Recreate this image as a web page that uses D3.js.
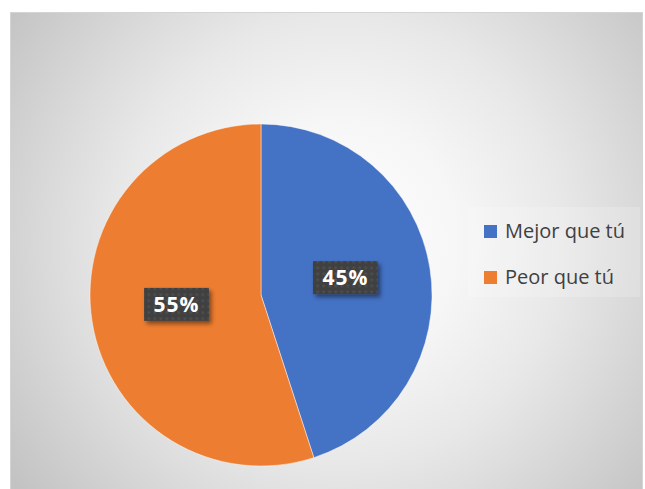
<!DOCTYPE html>
<html>
<head>
<meta charset="utf-8">
<script src="https://cdn.jsdelivr.net/npm/d3@7"></script>
<style>
  html, body { margin: 0; padding: 0; background: #ffffff; }
  svg { display: block; }
</style>
</head>
<body>
<svg id="chart" width="645" height="489"></svg>
<script>
// Share of answers
const categories = ["Mejor que tú", "Peor que tú"];
const values = [45, 55];
const labels = ["45%", "55%"];
const colors = ["#4472C4", "#ED7D31"];

const W = 645, H = 489;
const svg = d3.select("#chart");
const defs = svg.append("defs");

// soft radial background of the chart area
const bg = defs.append("radialGradient")
  .attr("id", "bgGrad")
  .attr("gradientUnits", "userSpaceOnUse")
  .attr("cx", 340).attr("cy", 240).attr("r", 405);
[[0, "#ffffff"], [0.3, "#f6f6f6"], [0.55, "#e8e8e8"], [0.7, "#dcdcdc"], [1, "#c3c3c3"]]
  .forEach(([o, c]) => bg.append("stop").attr("offset", o).attr("stop-color", c));

// dotted fill for the value labels
const pat = defs.append("pattern")
  .attr("id", "dots")
  .attr("patternUnits", "userSpaceOnUse")
  .attr("width", 6).attr("height", 6);
pat.append("rect").attr("width", 6).attr("height", 6).attr("fill", "#404040");
pat.append("rect").attr("x", 1).attr("y", 1).attr("width", 2.5).attr("height", 2.5).attr("fill", "#4f4f4f");

const shadow = defs.append("filter").attr("id", "shadow")
  .attr("x", "-20%").attr("y", "-20%").attr("width", "150%").attr("height", "160%");
shadow.append("feDropShadow")
  .attr("dx", 2.5).attr("dy", 3).attr("stdDeviation", 2)
  .attr("flood-color", "#000").attr("flood-opacity", 0.45);

// chart area
svg.append("rect")
  .attr("x", 10.5).attr("y", 12.5)
  .attr("width", 632).attr("height", 477)
  .attr("fill", "url(#bgGrad)")
  .attr("stroke", "#d4d4d4").attr("stroke-width", 1);

// pie
const cx = 261, cy = 295, radius = 171;
const pie = d3.pie().sort(null).value(d => d)(values);
const arc = d3.arc().innerRadius(0).outerRadius(radius);
const labelArc = d3.arc().innerRadius(0).outerRadius(radius);

const g = svg.append("g").attr("transform", `translate(${cx},${cy})`);
g.selectAll("path.slice")
  .data(pie)
  .join("path")
  .attr("class", "slice")
  .attr("d", arc)
  .attr("fill", (d, i) => colors[i])
  .attr("stroke", "#ffffff")
  .attr("stroke-opacity", 0.6)
  .attr("stroke-width", 0.75);

// value labels
const lab = g.selectAll("g.lab")
  .data(pie)
  .join("g")
  .attr("class", "lab")
  .attr("transform", d => {
    const [x, y] = labelArc.centroid(d);
    return `translate(${x},${y - 4})`;
  });

lab.append("text")
  .attr("text-anchor", "middle")
  .attr("dy", "0.36em")
  .attr("font-family", "'Open Sans', sans-serif")
  .attr("font-weight", 700)
  .attr("font-size", 21)
  .attr("letter-spacing", 1)
  .attr("fill", "#ffffff")
  .text((d, i) => labels[i]);

lab.each(function () {
  const grp = d3.select(this);
  const tw = grp.select("text").node().getComputedTextLength();
  const bw = tw + 19, bh = 33;
  grp.insert("rect", "text")
    .attr("x", -bw / 2).attr("y", -bh / 2)
    .attr("width", bw).attr("height", bh)
    .attr("fill", "url(#dots)")
    .attr("filter", "url(#shadow)");
});

// legend
svg.append("rect")
  .attr("x", 468).attr("y", 207)
  .attr("width", 172).attr("height", 90)
  .attr("fill", "#ffffff").attr("fill-opacity", 0.18);

const legend = svg.append("g").attr("transform", "translate(484,0)");
const items = legend.selectAll("g.item")
  .data(categories)
  .join("g")
  .attr("class", "item")
  .attr("transform", (d, i) => `translate(0,${225 + i * 46})`);
items.append("rect")
  .attr("width", 13).attr("height", 13)
  .attr("fill", (d, i) => colors[i]);
items.append("text")
  .attr("x", 21).attr("y", 13)
  .attr("font-family", "'Open Sans', sans-serif")
  .attr("font-size", 20)
  .attr("fill", "#404040")
  .text(d => d);
</script>
</body>
</html>
